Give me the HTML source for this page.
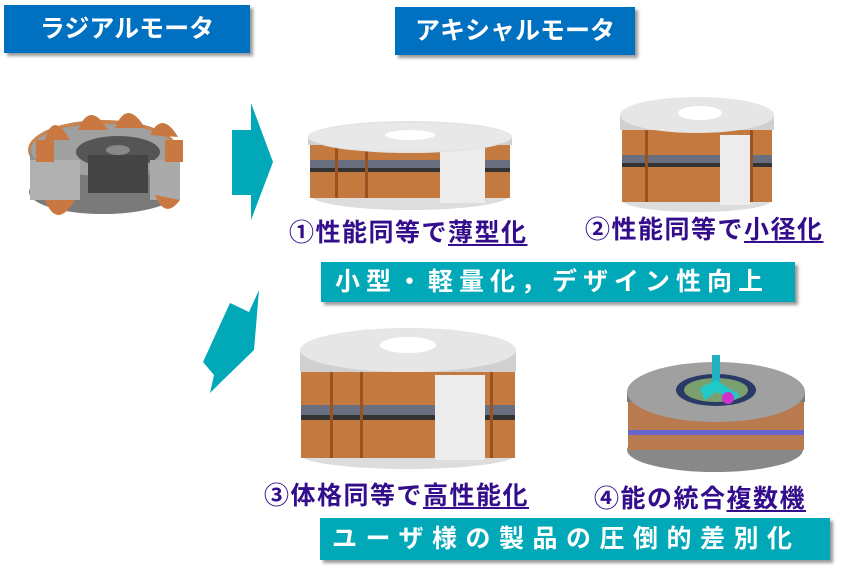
<!DOCTYPE html>
<html><head><meta charset="utf-8"><style>
body{margin:0;background:#fff;width:841px;height:579px;overflow:hidden;font-family:"Liberation Sans","Noto Sans CJK JP",sans-serif}
.t{position:absolute;background:#0070c0;color:#fff;font-weight:bold;font-size:25px;text-align:center;box-shadow:3px 3px 3px #999}
.b{position:absolute;background:#00a8b8;color:#fff;font-weight:bold;font-size:25px;box-shadow:3px 3px 3px #999;white-space:nowrap}
.l{position:absolute;color:#330d8c;font-weight:bold;font-size:25px;white-space:nowrap;letter-spacing:1.5px}
.l u{text-underline-offset:3px}
</style></head><body>
<div class="t" style="left:4px;top:5px;width:246px;height:48px;line-height:48px">ラジアルモータ</div>
<div class="t" style="left:395px;top:7px;width:240px;height:48px;line-height:48px">アキシャルモータ</div>
<svg width="841" height="579" style="position:absolute;left:0;top:0">
<polygon points="232,130 251,130 251,103 273,162 251,220 251,195 232,195" fill="#00a8b8"/>
<polygon points="259,290 254,350 220,383 210,393 214,375 203,362 230,303 249,312" fill="#00a8b8"/>
<ellipse cx="103" cy="150" rx="75" ry="30" fill="#c88450"/>
<rect x="30" y="150" width="148" height="42" fill="#8e8e8e"/>
<ellipse cx="103" cy="192" rx="74" ry="22" fill="#7a7a7a"/>
<ellipse cx="103" cy="150" rx="72" ry="26" fill="#a0a0a0"/>
<ellipse cx="118" cy="152" rx="42" ry="16" fill="#555"/>
<rect x="88" y="155" width="60" height="38" fill="#444"/>
<ellipse cx="118" cy="150" rx="12" ry="5" fill="#888"/>
<rect x="30" y="160" width="50" height="40" fill="#b0b0b0"/>
<rect x="150" y="160" width="30" height="40" fill="#aaa"/>
<g fill="#c87840"><path d="M45,140 q8,-30 25,0z"/><path d="M78,130 q12,-30 30,0z"/><path d="M115,128 q12,-30 30,0z"/><path d="M150,135 q12,-25 28,2z"/><path d="M45,200 q12,30 30,0z"/><path d="M155,195 q10,25 25,5z"/><rect x="36" y="140" width="18" height="22"/><rect x="165" y="140" width="18" height="22"/></g>
<ellipse cx="410" cy="195" rx="100" ry="15" fill="#ddd"/>
<rect x="310" y="140" width="200" height="58" fill="#c47a3e"/>
<rect x="310" y="160" width="200" height="9" fill="#6a6f80"/>
<rect x="310" y="168" width="200" height="4" fill="#333"/>
<g fill="#9a5320"><rect x="335" y="140" width="3" height="58"/><rect x="365" y="140" width="3" height="58"/><rect x="480" y="140" width="3" height="58"/></g>
<rect x="440" y="148" width="45" height="55" fill="#ececec"/>
<ellipse cx="410" cy="137" rx="102" ry="16" fill="#e4e4e4"/>
<rect x="308" y="137" width="204" height="8" fill="#d0d0d0"/>
<ellipse cx="410" cy="137" rx="102" ry="14" fill="#e8e8e8"/>
<ellipse cx="410" cy="135" rx="25" ry="5" fill="#fff"/>
<ellipse cx="697" cy="200" rx="75" ry="12" fill="#ddd"/>
<rect x="622" y="130" width="150" height="72" fill="#c47a3e"/>
<rect x="622" y="155" width="150" height="9" fill="#6a6f80"/>
<rect x="622" y="163" width="150" height="4" fill="#333"/>
<g fill="#9a5320"><rect x="645" y="130" width="3" height="72"/><rect x="750" y="130" width="3" height="72"/></g>
<rect x="720" y="135" width="30" height="70" fill="#ececec"/>
<rect x="620" y="115" width="154" height="15" fill="#d0d0d0"/>
<ellipse cx="697" cy="115" rx="77" ry="18" fill="#e6e6e6"/>
<ellipse cx="700" cy="113" rx="22" ry="7" fill="#fff"/>
<ellipse cx="408" cy="455" rx="107" ry="14" fill="#ddd"/>
<rect x="301" y="370" width="214" height="88" fill="#c47a3e"/>
<rect x="301" y="405" width="214" height="11" fill="#6a6f80"/>
<rect x="301" y="415" width="214" height="5" fill="#333"/>
<g fill="#9a5320"><rect x="330" y="370" width="3" height="88"/><rect x="360" y="370" width="3" height="88"/><rect x="490" y="370" width="3" height="88"/></g>
<rect x="435" y="375" width="50" height="85" fill="#ececec"/>
<rect x="300" y="350" width="216" height="22" fill="#d0d0d0"/>
<ellipse cx="408" cy="350" rx="108" ry="22" fill="#e6e6e6"/>
<ellipse cx="408" cy="345" rx="28" ry="8" fill="#fff"/>
<ellipse cx="715" cy="450" rx="88" ry="22" fill="#888"/>
<rect x="628" y="400" width="176" height="50" fill="#b87a4e"/>
<rect x="628" y="430" width="176" height="5" fill="#6666cc"/>
<rect x="627" y="392" width="178" height="10" fill="#777"/>
<ellipse cx="716" cy="392" rx="89" ry="30" fill="#a0a0a0"/>
<ellipse cx="716" cy="390" rx="40" ry="16" fill="#2a3a66"/>
<ellipse cx="716" cy="390" rx="32" ry="12" fill="#7aa070"/>
<rect x="712" y="355" width="8" height="35" fill="#20b0c0"/>
<polygon points="700,388 716,380 740,395 735,400 716,392 705,400" fill="#20c8c8"/>
<circle cx="728" cy="398" r="6" fill="#cc33cc"/>
</svg>
<div class="l" style="left:289px;top:213px">①性能同等で<u>薄型化</u></div>
<div class="l" style="left:585px;top:210px">②性能同等で<u>小径化</u></div>
<div class="l" style="left:264px;top:476px">③体格同等で<u>高性能化</u></div>
<div class="l" style="left:594px;top:479px">④能の統合<u>複数機</u></div>
<div class="b" style="left:321px;top:262px;width:474px;height:40px;line-height:40px;padding-left:14px;letter-spacing:6px;box-sizing:border-box">小型・軽量化，デザイン性向上</div>
<div class="b" style="left:320px;top:518px;width:510px;height:42px;line-height:42px;padding-left:12px;letter-spacing:8.5px;box-sizing:border-box">ユーザ様の製品の圧倒的差別化</div>
</body></html>
